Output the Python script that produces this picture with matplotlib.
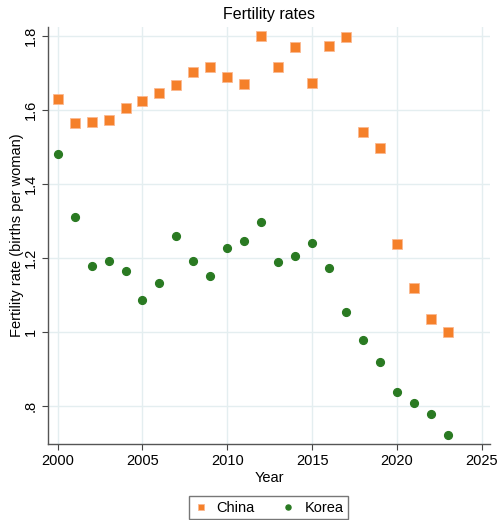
import matplotlib
matplotlib.use("Agg")
import matplotlib.pyplot as plt

years = list(range(2000, 2024))
china = [1.629, 1.564, 1.567, 1.571, 1.605, 1.624, 1.645, 1.667, 1.702, 1.715,
         1.688, 1.669, 1.799, 1.715, 1.769, 1.671, 1.773, 1.796, 1.540, 1.497,
         1.236, 1.117, 1.034, 0.999]
korea = [1.481, 1.310, 1.178, 1.190, 1.165, 1.086, 1.132, 1.259, 1.191, 1.150,
         1.227, 1.245, 1.297, 1.188, 1.205, 1.239, 1.172, 1.052, 0.977, 0.918,
         0.837, 0.808, 0.778, 0.721]

x_ticks = [2000, 2005, 2010, 2015, 2020, 2025]
y_ticks = [0.8, 1.0, 1.2, 1.4, 1.6, 1.8]
y_tick_labels = [".8", "1", "1.2", "1.4", "1.6", "1.8"]

plt.rcParams["font.family"] = ["Liberation Sans", "DejaVu Sans"]

ORANGE = "#f5802a"
GREEN = "#2a7a22"
GRID = "#e4eef0"

fig = plt.figure(figsize=(4.99, 5.2), dpi=100)
ax = fig.add_axes([0.0962, 0.1467, 0.8858, 0.8013])

ax.plot(years, china, linestyle="none", marker="s", markersize=6.6,
        color=ORANGE, markeredgecolor="#fbb890", markeredgewidth=0.6,
        label="China", zorder=3)
ax.plot(years, korea, linestyle="none", marker="o", markersize=5.6,
        color=GREEN, markeredgecolor=GREEN, label="Korea", zorder=3)

ax.set_xlim(1999.43, 2025.49)
ax.set_ylim(0.697, 1.8235)
ax.set_xticks(x_ticks)
ax.set_yticks(y_ticks)
ax.set_yticklabels(y_tick_labels, rotation=90, va="center")
ax.tick_params(labelsize=10.5, length=4, width=0.8, color="#444444")
ax.grid(True, color=GRID, linewidth=1.0, zorder=0)
ax.set_axisbelow(True)

for side in ["top", "right"]:
    ax.spines[side].set_visible(False)
for side in ["left", "bottom"]:
    ax.spines[side].set_color("#555555")
    ax.spines[side].set_linewidth(1.0)

ax.set_title("Fertility rates", fontsize=11.5, pad=6)
ax.set_xlabel("Year", fontsize=10.5, labelpad=2)
ax.set_ylabel("Fertility rate (births per woman)", fontsize=10.5, labelpad=0)

fig.legend(loc="upper center", bbox_to_anchor=(0.5379, 1 - 489 / 520), ncol=2,
           fontsize=10.5, frameon=True, fancybox=False, edgecolor="#555555",
           markerscale=0.65, handlelength=1.0, handletextpad=0.6,
           columnspacing=1.8, borderpad=0.3)

fig.savefig("out.png", dpi=100)
